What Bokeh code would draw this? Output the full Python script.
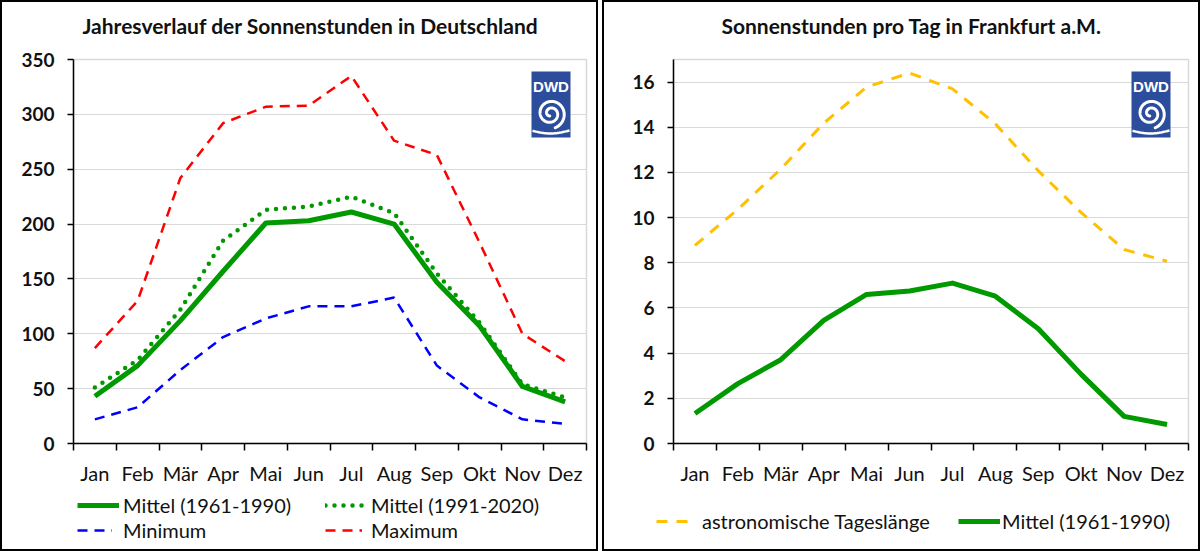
import numpy as np
from bokeh.plotting import figure
from bokeh.layouts import row, column
from bokeh.models import Range1d, FixedTicker, Legend, LegendItem, Label
from bokeh.embed import file_html
from bokeh.resources import INLINE
from bokeh.core.properties import value

# ---------------- data ----------------
months = ["Jan", "Feb", "Mär", "Apr", "Mai", "Jun", "Jul", "Aug", "Sep", "Okt", "Nov", "Dez"]

# Left chart: Sonnenstunden pro Monat in Deutschland
mittel_1961_1990 = [43, 71, 112, 157, 201, 203, 211, 200, 147, 107, 52, 38]
mittel_1991_2020 = [51, 76, 122, 185, 213, 216, 225, 210, 155, 110, 54, 42]
minimum = [22, 33, 67, 97, 114, 125, 125, 133, 71, 42, 22, 18]
maximum = [87, 130, 242, 292, 307, 308, 335, 276, 263, 183, 100, 75]
left_yticks = [0, 50, 100, 150, 200, 250, 300, 350]

# Right chart: Sonnenstunden pro Tag in Frankfurt a.M.
tageslaenge = [8.77, 10.37, 12.15, 14.18, 15.78, 16.40, 15.70, 14.15, 12.07, 10.22, 8.59, 8.07]
mittel_ffm = [1.33, 2.65, 3.71, 5.45, 6.60, 6.75, 7.10, 6.52, 5.08, 3.06, 1.20, 0.84]
right_yticks = [0, 2, 4, 6, 8, 10, 12, 14, 16]

FONT = "Lato"
GREEN = "#009900"
TXT = "#111111"
W = 594
H_TITLE, H_MAIN, H_LEG = 40, 448, 59
TOP, BOTTOM = 17, 47

xs = [i + 0.5 for i in range(len(months))]

STYLE_61 = dict(line_color=GREEN, line_width=5, line_join="round")
STYLE_91 = dict(line_color=GREEN, line_width=4.5, line_dash="0 9", line_cap="round",
                line_join="round")
STYLE_MIN = dict(line_color="#0000ff", line_width=2.5, line_dash="10 7")
STYLE_MAX = dict(line_color="#ff0000", line_width=2.5, line_dash="10 7")
STYLE_TAG = dict(line_color="#ffc000", line_width=3, line_dash="11 9")


def no_frame_align(p):
    if "frame_align" in p.properties():
        p.frame_align = False


def strip_fig(height):
    q = figure(width=W, height=height, x_range=Range1d(0, W), y_range=Range1d(0, height),
               output_backend="svg", toolbar_location=None,
               x_axis_type=None, y_axis_type=None,
               min_border_left=0, min_border_right=0, min_border_top=0, min_border_bottom=0)
    no_frame_align(q)
    q.grid.visible = False
    q.outline_line_color = None
    q.background_fill_color = "white"
    q.border_fill_color = "white"
    return q


def make_title_fig(text, cx):
    q = strip_fig(H_TITLE)
    q.add_layout(Label(x=cx, y=17, text=text, text_align="center",
                       text_baseline="alphabetic", text_font=FONT,
                       text_font_size="21px", text_font_style="bold", text_color=TXT))
    return q


def make_fig(ymax, yticks, bl, br):
    p = figure(width=W, height=H_MAIN, x_range=Range1d(0, 12), y_range=Range1d(0, ymax),
               output_backend="svg", toolbar_location=None,
               min_border_left=bl, min_border_right=br,
               min_border_top=TOP, min_border_bottom=BOTTOM)
    no_frame_align(p)
    p.background_fill_color = "white"
    p.border_fill_color = "white"
    p.outline_line_color = "#d9d9d9"
    p.outline_line_width = 1.5

    xa = p.xaxis[0]
    xa.ticker = FixedTicker(ticks=xs, minor_ticks=list(range(13)))
    xa.major_label_overrides = {x: m for x, m in zip(xs, months)}
    xa.major_tick_line_color = None
    xa.major_tick_out = 0
    xa.major_tick_in = 0
    xa.minor_tick_line_color = "black"
    xa.minor_tick_line_width = 1.5
    xa.minor_tick_out = 7
    xa.minor_tick_in = 0
    xa.axis_line_color = "black"
    xa.axis_line_width = 1.5
    xa.major_label_text_font = FONT
    xa.major_label_text_font_size = "20px"
    xa.major_label_text_color = TXT
    xa.major_label_standoff = 10

    ya = p.yaxis[0]
    ya.ticker = FixedTicker(ticks=yticks, minor_ticks=[])
    ya.major_tick_line_color = "black"
    ya.major_tick_line_width = 1.5
    ya.major_tick_out = 6
    ya.major_tick_in = 0
    ya.minor_tick_line_color = None
    ya.axis_line_color = "black"
    ya.axis_line_width = 1.5
    ya.major_label_text_font = FONT
    ya.major_label_text_font_size = "19px"
    ya.major_label_text_font_style = "bold"
    ya.major_label_text_color = TXT
    ya.major_label_standoff = 13

    p.xgrid.visible = False
    p.ygrid.ticker = FixedTicker(ticks=yticks)
    p.ygrid.grid_line_color = "#d9d9d9"
    p.ygrid.grid_line_width = 1.2
    return p


def add_logo(p, bl, br, ymax, fx, fy):
    # fx, fy: logo top-left in pixels from the frame's left / top edge
    kx = 12.0 / (W - bl - br)
    ky = ymax / (H_MAIN - TOP - BOTTOM)

    def X(px):
        return px * kx

    def Y(py):
        return ymax - py * ky

    w, h = 39, 66
    p.quad(left=[X(fx)], right=[X(fx + w)], top=[Y(fy)], bottom=[Y(fy + h)],
           fill_color="#2c4c9c", line_color=None)
    p.text(x=[X(fx + w / 2)], y=[Y(fy + 15)], text=["DWD"], text_align="center",
           text_baseline="alphabetic", text_font=value("Liberation Sans"),
           text_font_size="15px", text_font_style="bold", text_color="white")
    cx, cy = fx + 19, fy + 42
    t = np.linspace(0.3, 2 * np.pi * 1.95, 220)
    r = 2.5 + 12.5 * (t - 0.3) / (t[-1] - 0.3)
    sx = cx + r * np.cos(t + np.pi / 2)
    sy = cy + r * np.sin(t + np.pi / 2)
    p.line(X(sx), Y(sy), line_color="white", line_width=3, line_cap="round")
    tx = np.linspace(fx + 1, fx + w - 1, 40)
    ty = fy + h - 7 + 3 * np.cos((tx - cx) / 12.0)
    p.line(X(tx), Y(ty), line_color="white", line_width=2.5)


def make_legend_fig(entries):
    # entries: (label, style, x, y_bottom, glyph_width, standoff) in pixels of this strip
    q = strip_fig(H_LEG)
    for label, style, x, y, gw, so in entries:
        # legend proxy: a line renderer with a single missing point (draws nothing)
        rend = q.line(x=[np.nan], y=[np.nan], **style)
        lg = Legend(items=[LegendItem(label=label, renderers=[rend])], location=(x, y),
                    glyph_width=gw, glyph_height=20, label_standoff=so,
                    label_height=20, padding=0, margin=0, spacing=0,
                    label_text_font=FONT, label_text_font_size="20px",
                    label_text_color=TXT,
                    background_fill_alpha=0, border_line_color=None)
        q.add_layout(lg, "center")
    return q


# ---------------- left chart ----------------
LBL, LBR = 71, 10
left_title = make_title_fig("Jahresverlauf der Sonnenstunden in Deutschland", 308)
left = make_fig(350, left_yticks, LBL, LBR)
left.line(xs, mittel_1961_1990, **STYLE_61)
left.line(xs, mittel_1991_2020, **STYLE_91)
left.line(xs, minimum, **STYLE_MIN)
left.line(xs, maximum, **STYLE_MAX)
add_logo(left, LBL, LBR, 350, 458, 12)
left_leg = make_legend_fig([
    ("Mittel (1961-1990)", STYLE_61, 75, 32, 42, 4),
    ("Mittel (1991-2020)", STYLE_91, 323, 32, 42, 4),
    ("Minimum", STYLE_MIN, 75, 7, 35, 11),
    ("Maximum", STYLE_MAX, 323, 7, 37, 9),
])

# ---------------- right chart ----------------
RBL, RBR = 69, 10
right_title = make_title_fig("Sonnenstunden pro Tag in Frankfurt a.M.", 307)
right = make_fig(17, right_yticks, RBL, RBR)
right.line(xs, tageslaenge, **STYLE_TAG)
right.line(xs, mittel_ffm, **STYLE_61)
add_logo(right, RBL, RBR, 17, 458, 12)
right_leg = make_legend_fig([
    ("astronomische Tageslänge", STYLE_TAG, 52, 16, 35, 11),
    ("Mittel (1961-1990)", STYLE_61, 354, 16, 42, 2),
])

box_style = {"border": "2px solid #000", "box-sizing": "content-box"}
lcol = column(left_title, left, left_leg, spacing=0)
rcol = column(right_title, right, right_leg, spacing=0)
lcol.styles = box_style
rcol.styles = box_style

layout = row(lcol, rcol, spacing=4)
open("out.html", "w").write(file_html(layout, INLINE))
